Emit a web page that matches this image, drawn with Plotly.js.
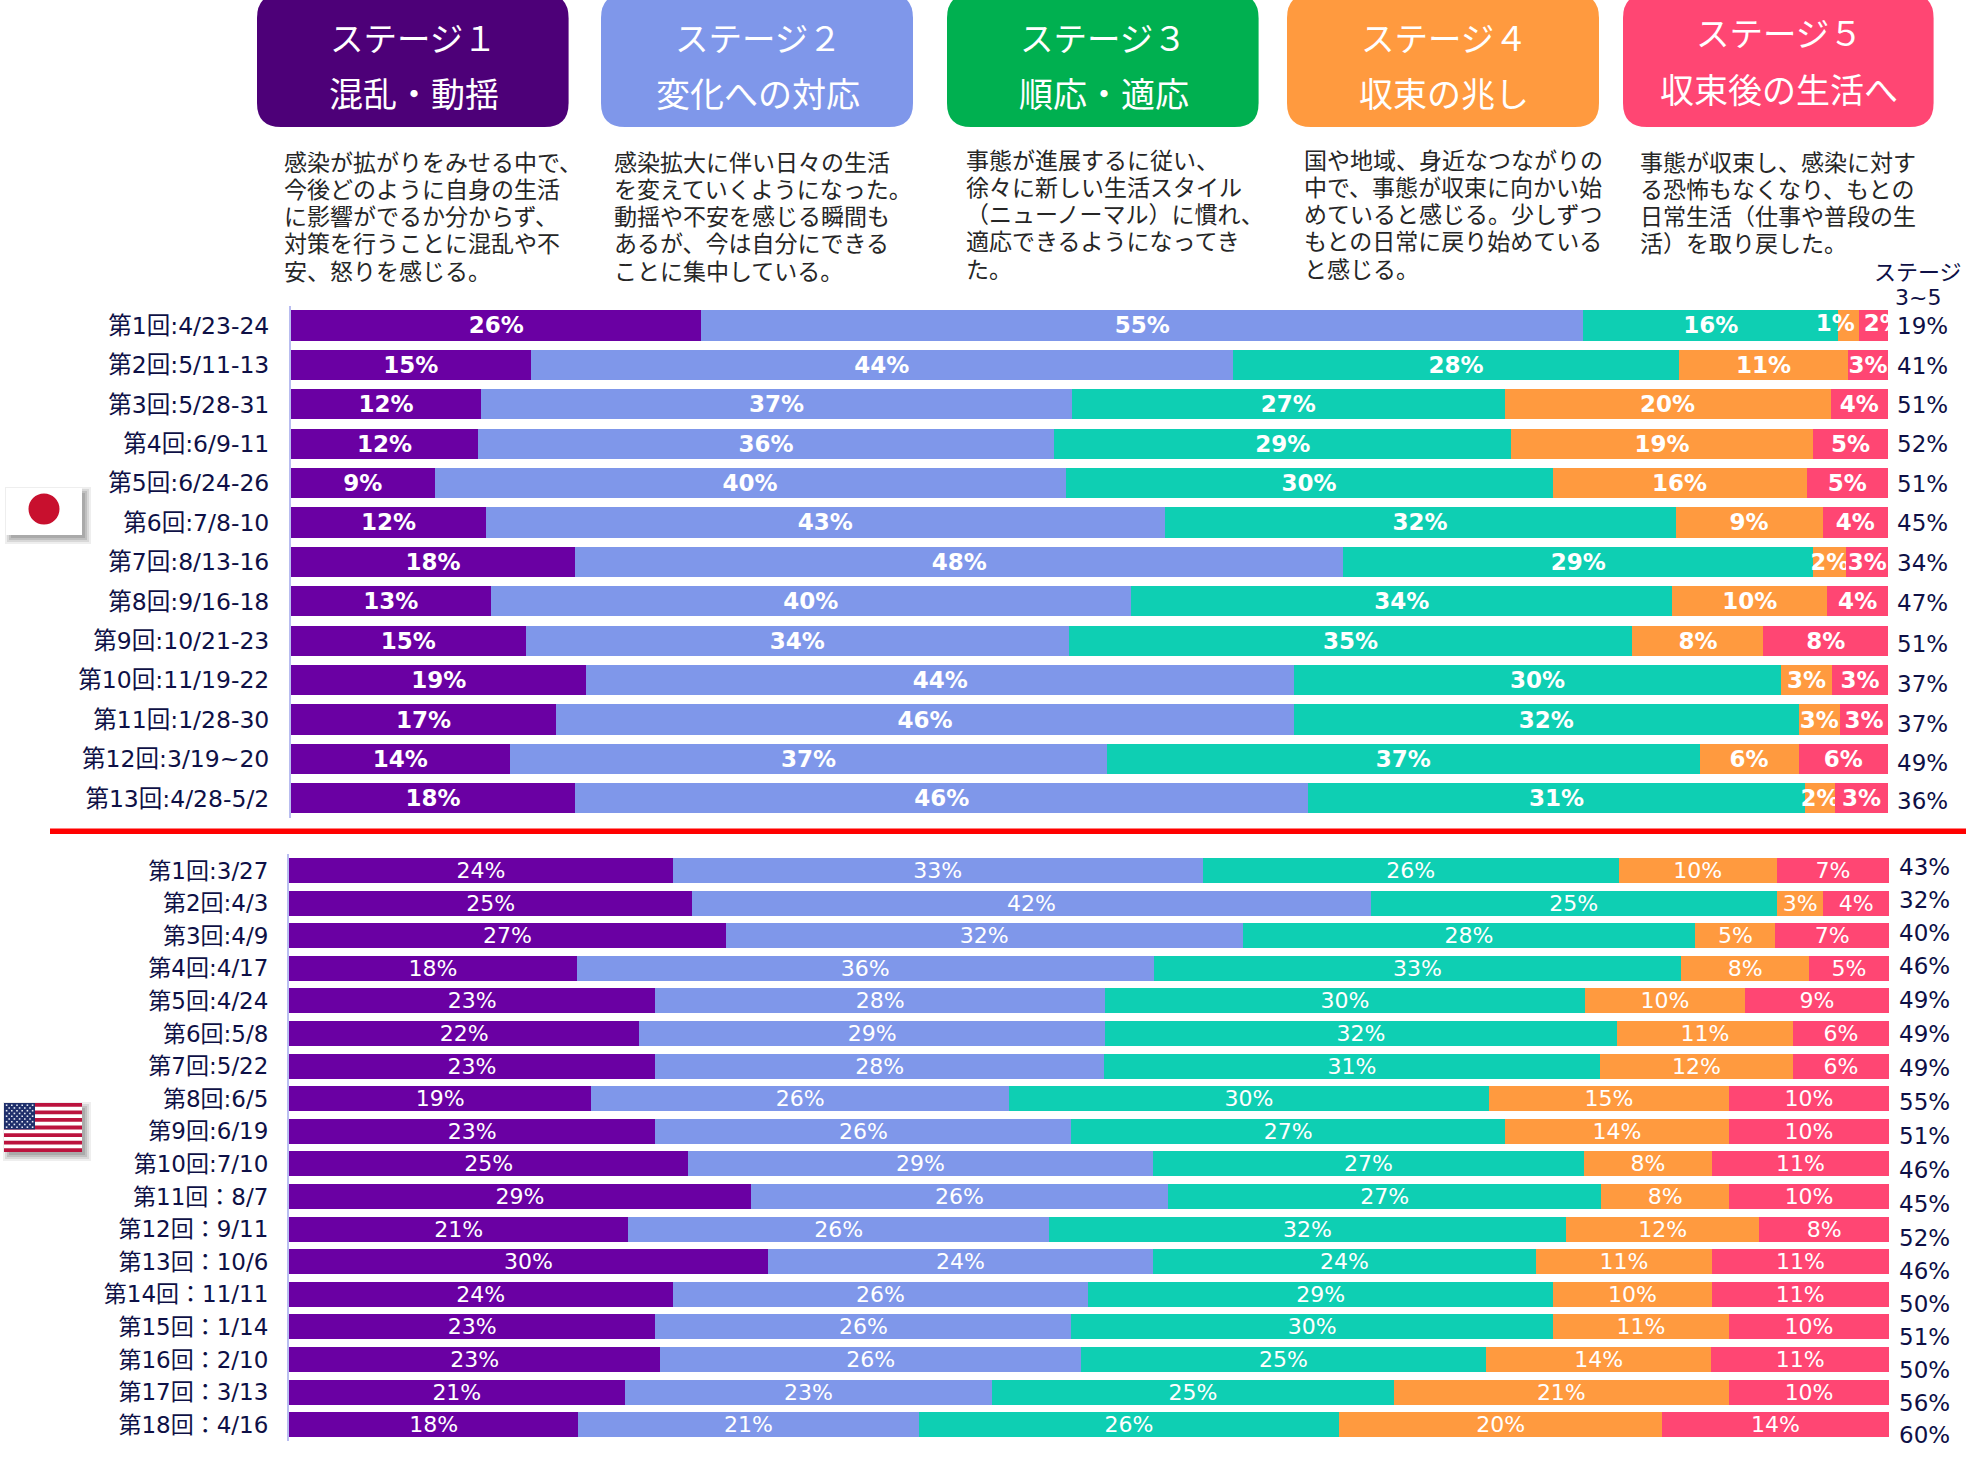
<!DOCTYPE html>
<html><head><meta charset="utf-8">
<script src="https://cdn.plot.ly/plotly-3.0.1.min.js"></script>
<style>html,body{margin:0;padding:0;background:#fff}#c{width:1977px;height:1468px}</style>
</head><body><div id="c"></div>
<script>
const jpRounds=["第1回:4/23-24","第2回:5/11-13","第3回:5/28-31","第4回:6/9-11","第5回:6/24-26","第6回:7/8-10","第7回:8/13-16","第8回:9/16-18","第9回:10/21-23","第10回:11/19-22","第11回:1/28-30","第12回:3/19~20","第13回:4/28-5/2"];
const jpV1=[25.7,15.0,11.9,11.7,9.0,12.2,17.8,12.5,14.7,18.5,16.6,13.7,17.8];
const jpV2=[55.2,44.0,37.0,36.1,39.5,42.5,48.1,40.1,34.0,44.3,46.2,37.4,45.9];
const jpV3=[16.0,27.9,27.1,28.6,30.5,32.0,29.4,33.9,35.3,30.5,31.6,37.1,31.1];
const jpV4=[1.3,10.6,20.4,18.9,15.9,9.2,2.1,9.7,8.2,3.2,2.6,6.2,1.9];
const jpV5=[1.8,2.5,3.6,4.7,5.1,4.1,2.6,3.8,7.8,3.5,3.0,5.6,3.3];
const jpT1=[26,15,12,12,9,12,18,13,15,19,17,14,18];
const jpT2=[55,44,37,36,40,43,48,40,34,44,46,37,46];
const jpT3=[16,28,27,29,30,32,29,34,35,30,32,37,31];
const jpT4=[null,11,20,19,16,9,2,10,8,3,3,6,2];
const jpT5=[null,3,4,5,5,4,3,4,8,3,3,6,3];
const jpTotal=[19,41,51,52,51,45,34,47,51,37,37,49,36];
// the two labels of round 1 that do not sit centred in their bars
const jpOffLabels=["1%","2%"];
const jpOffX=[96.7,99.7];

const usRounds=["第1回:3/27","第2回:4/3","第3回:4/9","第4回:4/17","第5回:4/24","第6回:5/8","第7回:5/22","第8回:6/5","第9回:6/19","第10回:7/10","第11回：8/7","第12回：9/11","第13回：10/6","第14回：11/11","第15回：1/14","第16回：2/10","第17回：3/13","第18回：4/16"];
const usV1=[24.0,25.2,27.3,18.0,22.9,21.9,22.9,18.9,22.9,25.0,28.9,21.2,30.0,24.0,22.9,23.2,21.0,18.1];
const usV2=[33.1,42.4,32.3,36.1,28.1,29.1,28.1,26.1,26.0,29.1,26.1,26.3,24.1,26.0,26.0,26.3,23.0,21.3];
const usV3=[26.0,25.4,28.3,33.0,30.0,32.0,31.0,30.0,27.1,27.0,27.1,32.3,24.0,29.1,30.1,25.3,25.1,26.3];
const usV4=[9.9,2.9,5.0,8.0,10.0,11.0,12.1,15.0,14.0,8.0,8.0,12.1,11.0,9.9,11.0,14.1,21.0,20.2];
const usV5=[7.0,4.1,7.1,5.0,9.0,6.0,6.0,10.0,10.0,11.1,10.0,8.1,11.1,11.1,10.0,11.1,10.0,14.2];
const usT1=[24,25,27,18,23,22,23,19,23,25,29,21,30,24,23,23,21,18];
const usT2=[33,42,32,36,28,29,28,26,26,29,26,26,24,26,26,26,23,21];
const usT3=[26,25,28,33,30,32,31,30,27,27,27,32,24,29,30,25,25,26];
const usT4=[10,3,5,8,10,11,12,15,14,8,8,12,11,10,11,14,21,20];
const usT5=[7,4,7,5,9,6,6,10,10,11,10,8,11,11,10,11,10,14];
const usTotal=[43,32,40,46,49,49,49,55,51,46,45,52,46,50,51,50,56,60];

const stageNames=["ステージ１","ステージ２","ステージ３","ステージ４","ステージ５"];
const stageTitles=["混乱・動揺","変化への対応","順応・適応","収束の兆し","収束後の生活へ"];
const stageText=[
["感染が拡がりをみせる中で、","今後どのように自身の生活","に影響がでるか分からず、","対策を行うことに混乱や不","安、怒りを感じる。"],
["感染拡大に伴い日々の生活","を変えていくようになった。","動揺や不安を感じる瞬間も","あるが、今は自分にできる","ことに集中している。"],
["事態が進展するに従い、","徐々に新しい生活スタイル","（ニューノーマル）に慣れ、","適応できるようになってき","た。"],
["国や地域、身近なつながりの","中で、事態が収束に向かい始","めていると感じる。少しずつ","もとの日常に戻り始めている","と感じる。"],
["事態が収束し、感染に対す","る恐怖もなくなり、もとの","日常生活（仕事や普段の生","活）を取り戻した。"]
];
const totalHead=["ステージ","3~5"];
const barColors=["#6A00A3","#7F97EA","#0ECFB3","#FF9A3F","#FF4673"];
const boxColors=["#4D0078","#7F97EA","#00B050","#FF9A3F","#FF4673"];

const W=1977,H=1468;
const X=p=>p/W, Y=p=>1-p/H;
const FONT="DejaVu Sans, Noto Sans CJK JP, sans-serif";
const CJK="Noto Sans CJK JP, sans-serif";
const NAVY="#0E1046";

const pct=a=>a.map(v=>v==null?"":v+"%");
function bars(y,vals,txts,xa,ya,font){
  return vals.map((v,i)=>({type:"bar",orientation:"h",y:y,x:v,text:pct(txts[i]),xaxis:xa,yaxis:ya,
    textposition:"inside",insidetextanchor:"middle",textangle:0,constraintext:"none",
    insidetextfont:{family:FONT,size:font.size,color:"#fff",weight:font.weight},
    marker:{color:barColors[i],line:{width:0}},hoverinfo:"skip",showlegend:false,cliponaxis:true}));
}
const data=[
 ...bars(jpRounds,[jpV1,jpV2,jpV3,jpV4,jpV5],[jpT1,jpT2,jpT3,jpT4,jpT5],"x","y",{size:23,weight:700}),
 ...bars(usRounds,[usV1,usV2,usV3,usV4,usV5],[usT1,usT2,usT3,usT4,usT5],"x2","y2",{size:22,weight:400}),
 {type:"scatter",mode:"text",x:jpOffX,y:[jpRounds[0],jpRounds[0]],text:jpOffLabels,xaxis:"x",yaxis:"y",
  textposition:"middle center",textfont:{family:FONT,size:23,color:"#fff",weight:700},cliponaxis:true,hoverinfo:"skip",showlegend:false}
];

// layout geometry, in pixels of the page
const boxes=[[257,568.6],[601,913],[947,1258.6],[1287,1599],[1623,1933.6]];
const boxBottom=127, boxR=24;
const nameY=[36,36,36,36,32], titleY=[92.5,92.5,92.5,92.5,88];
const textX=[282.5,613,965,1303,1639], textY=[160.5,160.5,158.5,158.5,160.5], textPitch=27.3;
const jpTop=305.8,jpPitch=39.4,usTop=854.2,usPitch=32.6;
const jpColY=[326.5,366,405,444,484,523,563.5,603,644,683.5,723.5,763,801];
const usColY=[867,900,933,966,999.5,1034,1068,1102,1136,1170,1204,1238,1271,1304,1337,1370,1402.5,1435];

const ann=[], shapes=[];
function label(x,y,t,size,color,anchor,family,weight){
  ann.push({xref:"paper",yref:"paper",x:X(x),y:Y(y),text:t,showarrow:false,xanchor:anchor,yanchor:"middle",borderpad:0,
    font:{family:family||FONT,size:size,color:color,weight:weight||400}});
}
boxes.forEach((b,i)=>{
  const [l,r]=b,t=-6,bt=boxBottom,R=boxR;
  const path=`M ${X(l+R)} ${Y(t)} L ${X(r-R)} ${Y(t)} Q ${X(r)} ${Y(t)} ${X(r)} ${Y(t+R)} L ${X(r)} ${Y(bt-R)} Q ${X(r)} ${Y(bt)} ${X(r-R)} ${Y(bt)} L ${X(l+R)} ${Y(bt)} Q ${X(l)} ${Y(bt)} ${X(l)} ${Y(bt-R)} L ${X(l)} ${Y(t+R)} Q ${X(l)} ${Y(t)} ${X(l+R)} ${Y(t)} Z`;
  shapes.push({type:"path",xref:"paper",yref:"paper",path:path,fillcolor:boxColors[i],line:{width:0}});
  const c=(l+r)/2+(i<4?1:1);
  label(c,nameY[i],stageNames[i],33.5,"#fff","center",CJK,400);
  label(c,titleY[i],stageTitles[i],34,"#fff","center",CJK,400);
  stageText[i].forEach((t,j)=>label(textX[i],textY[i]+j*textPitch,t,23,"#262626","left",CJK,400));
});
label(1918,270,totalHead[0],22,NAVY,"center",CJK);
label(1918,297,totalHead[1],22,NAVY,"center",FONT);
jpTotal.forEach((v,i)=>label(1896,jpColY[i],v+"%",23,NAVY,"left"));
usTotal.forEach((v,i)=>label(1898,usColY[i],v+"%",23,NAVY,"left"));

function rect(x0,y0,x1,y1,fill,op){shapes.push({type:"rect",xref:"paper",yref:"paper",x0:X(x0),x1:X(x1),y0:Y(y0),y1:Y(y1),fillcolor:fill,opacity:op==null?1:op,line:{width:0}});}
// red divider
rect(50,828.5,1966,834,"#FF0000");
// flag shadows
[[6,488,82,535],[4,1103,82,1152]].forEach(f=>{
  [[7,.10],[5,.14],[3,.18],[1,.2]].forEach(([d,o])=>rect(f[0]+4-d+2,f[1]+4-d+2,f[2]+2+d,f[3]+2+d,"#555",o));
});
// Japan
rect(6,488,82,535,"#fff");
shapes.push({type:"circle",xref:"paper",yref:"paper",x0:X(44-15.5),x1:X(44+15.5),y0:Y(509-15.5),y1:Y(509+15.5),fillcolor:"#C8102E",line:{width:0}});
// USA
const fl=4,fr=82,ft=1103,fb=1152,sh=(fb-ft)/13;
rect(fl,ft,fr,fb,"#fff");
for(let s=0;s<13;s+=2) rect(fl,ft+s*sh,fr,ft+(s+1)*sh,"#BB133E");
rect(fl,ft,35,ft+7*sh,"#1F2F6B");
for(let r=0;r<9;r++){const n=r%2?5:6;for(let k=0;k<n;k++){
  const cx=fl+(r%2?5.2:2.6)+k*5.2,cy=ft+2.2+r*2.75;
  rect(cx-.8,cy-.8,cx+.8,cy+.8,"#E8ECF5");
}}

const yAxis=(dom,n,size,stand)=>({domain:dom,type:"category",range:[n-.5,-.5],showline:true,linecolor:"#B9BDF0",linewidth:2,
  showgrid:false,zeroline:false,ticks:"",ticklabelstandoff:stand,tickfont:{family:FONT,size:size,color:NAVY},tickmode:"linear",dtick:1,automargin:false,fixedrange:true});
const xAxis=(dom,anc)=>({domain:dom,range:[0,100],visible:false,fixedrange:true,anchor:anc});

Plotly.newPlot("c",data,{
  width:W,height:H,autosize:false,margin:{l:0,r:0,t:0,b:0,pad:0},
  paper_bgcolor:"#fff",plot_bgcolor:"rgba(0,0,0,0)",
  barmode:"stack",barnorm:"percent",bargap:.23,showlegend:false,
  xaxis:xAxis([X(291),X(1888)],"y"),
  yaxis:{...yAxis([Y(jpTop+13*jpPitch),Y(jpTop)],13,23.5,15),anchor:"x"},
  xaxis2:xAxis([X(289),X(1889)],"y2"),
  yaxis2:{...yAxis([Y(usTop+18*usPitch),Y(usTop)],18,23,14),anchor:"x2"},
  annotations:ann,shapes:shapes
},{displayModeBar:false,responsive:false});
</script></body></html>
